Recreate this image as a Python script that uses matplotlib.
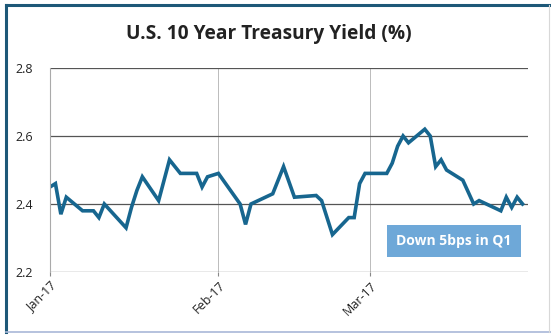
import pandas as pd
import matplotlib.pyplot as plt
from matplotlib.lines import Line2D

# 10 year treasury yield, Q1 2017
dates = ["2017-01-01", "2017-01-02", "2017-01-03", "2017-01-04", "2017-01-07",
         "2017-01-09", "2017-01-10", "2017-01-11", "2017-01-15", "2017-01-16",
         "2017-01-17", "2017-01-18", "2017-01-21", "2017-01-23", "2017-01-25",
         "2017-01-28", "2017-01-29", "2017-01-30", "2017-02-01", "2017-02-05",
         "2017-02-06", "2017-02-07", "2017-02-09", "2017-02-11", "2017-02-13",
         "2017-02-15", "2017-02-19", "2017-02-20", "2017-02-22", "2017-02-25",
         "2017-02-26", "2017-02-27", "2017-02-28", "2017-03-04", "2017-03-05",
         "2017-03-06", "2017-03-07", "2017-03-08", "2017-03-11", "2017-03-12",
         "2017-03-13", "2017-03-14", "2017-03-15", "2017-03-18", "2017-03-20",
         "2017-03-21", "2017-03-25", "2017-03-26", "2017-03-27", "2017-03-28",
         "2017-03-29"]
yields = [2.45, 2.46, 2.37, 2.42, 2.38, 2.38, 2.36, 2.40, 2.33, 2.39,
          2.44, 2.48, 2.41, 2.53, 2.49, 2.49, 2.45, 2.48, 2.49, 2.40,
          2.34, 2.40, 2.415, 2.43, 2.51, 2.42, 2.425, 2.41, 2.31, 2.36,
          2.36, 2.46, 2.49, 2.49, 2.52, 2.57, 2.60, 2.58, 2.62, 2.60,
          2.51, 2.53, 2.50, 2.47, 2.40, 2.41, 2.38, 2.42, 2.39, 2.42,
          2.40]
ticks = ["2017-01-01", "2017-02-01", "2017-03-01"]
tick_labels = ["Jan-17", "Feb-17", "Mar-17"]
yticks = [2.2, 2.4, 2.6, 2.8]

x = pd.to_datetime(dates)

fig = plt.figure(figsize=(5.51, 3.35), dpi=100)
fig.patch.set_facecolor("white")

# frame around the whole chart
fig.add_artist(Line2D([6 / 551, 6 / 551], [3 / 335, 1 - 5 / 335], transform=fig.transFigure,
                      color="#1d5878", lw=2.2))
fig.add_artist(Line2D([6 / 551, 1], [1 - 5 / 335, 1 - 5 / 335], transform=fig.transFigure,
                      color="#1d5878", lw=2.2))
fig.add_artist(Line2D([6 / 551, 1], [3 / 335, 3 / 335], transform=fig.transFigure,
                      color="#a9b8d8", lw=1.2))
fig.add_artist(Line2D([549 / 551, 549 / 551], [3 / 335, 1 - 5 / 335], transform=fig.transFigure,
                      color="#d8d8d8", lw=0.8))

fig.text(0.487, 0.9, "U.S. 10 Year Treasury Yield (%)", ha="center", va="center",
         fontsize=13.8, fontweight="bold", family="Open Sans", color="#222222")

ax = fig.add_axes([50 / 551, 1 - 272 / 335, 478 / 551, 204 / 335])
ax.plot(x, yields, color="#17668f", lw=2.6, solid_joinstyle="miter")

ax.set_ylim(2.2, 2.8)
ax.set_yticks(yticks)
ax.set_yticklabels([f"{v:.1f}" for v in yticks])
ax.set_xlim(pd.Timestamp("2017-01-01"), pd.Timestamp("2017-03-30"))
ax.set_xticks(pd.to_datetime(ticks))
ax.set_xticklabels(tick_labels, rotation=45, ha="right", rotation_mode="anchor")

ax.grid(axis="y", color="#555555", lw=0.9)
ax.grid(axis="x", color="#bbbbbb", lw=0.7)
for side in ["top", "right", "bottom"]:
    ax.spines[side].set_visible(False)
ax.spines["left"].set_color("#aaaaaa")
ax.spines["left"].set_linewidth(0.8)
ax.tick_params(axis="both", length=3, color="#888888", labelsize=9, labelcolor="#222222")
ax.tick_params(axis="y", length=0, pad=12)
ax.tick_params(axis="x", pad=2)
for lab in ax.get_xticklabels() + ax.get_yticklabels():
    lab.set_family("Open Sans")

ax.text(0.845, 0.152, "Down 5bps in Q1", transform=ax.transAxes, ha="center", va="center",
        fontsize=10, fontweight="bold", family="Open Sans", color="white",
        bbox=dict(boxstyle="square,pad=0.65", fc="#6ea8d8", ec="none"))

fig.savefig("out.png", dpi=100)
